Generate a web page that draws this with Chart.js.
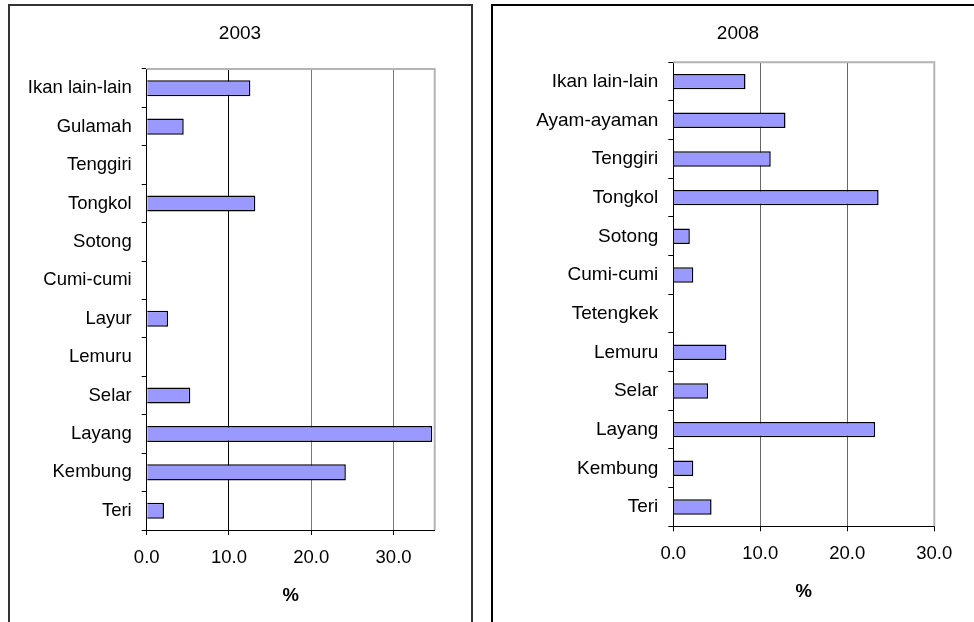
<!DOCTYPE html>
<html>
<head>
<meta charset="utf-8">
<script src="https://cdn.jsdelivr.net/npm/chart.js@4/dist/chart.umd.min.js"></script>
<style>
  html, body { margin: 0; padding: 0; background: #fff; overflow: hidden; }
  body { width: 974px; height: 622px; position: relative; }
  .panel { position: absolute; box-sizing: border-box; background: #fff; }
  #panel2003 { left: 8px; top: 4px; width: 465px; height: 640px; border: 2px solid #333; }
  #panel2008 { left: 491px; top: 4px; width: 500px; height: 640px; border: 2px solid #000; }
  canvas { display: block; }
</style>
</head>
<body>
<div class="panel" id="panel2003"><canvas id="c2003" width="461" height="616"></canvas></div>
<div class="panel" id="panel2008"><canvas id="c2008" width="481" height="616"></canvas></div>
<script>
// Catch composition (% share by fish group), top to bottom
const categories2003 = ['Ikan lain-lain', 'Gulamah', 'Tenggiri', 'Tongkol', 'Sotong', 'Cumi-cumi',
                        'Layur', 'Lemuru', 'Selar', 'Layang', 'Kembung', 'Teri'];
const share2003 = [12.6, 4.5, 0, 13.2, 0, 0, 2.6, 0, 5.3, 34.7, 24.2, 2.1];

const categories2008 = ['Ikan lain-lain', 'Ayam-ayaman', 'Tenggiri', 'Tongkol', 'Sotong', 'Cumi-cumi',
                        'Tetengkek', 'Lemuru', 'Selar', 'Layang', 'Kembung', 'Teri'];
const share2008 = [8.3, 12.9, 11.2, 23.6, 1.9, 2.3, 0, 6.1, 4.0, 23.2, 2.3, 4.4];

const tickValues = [0, 10, 20, 30];
const axisMax2003 = 35;
const axisMax2008 = 30;

Chart.defaults.font.family = '"Liberation Sans", Arial, sans-serif';
Chart.defaults.color = '#000';

// light grey frame on the top and right of the plot area
const plotFrame = {
  id: 'plotFrame',
  beforeDatasetsDraw(chart) {
    const { ctx, chartArea: a } = chart;
    ctx.save();
    ctx.strokeStyle = '#b4b4b4';
    ctx.lineWidth = 2;
    ctx.beginPath();
    ctx.moveTo(a.left, a.top);
    ctx.lineTo(a.right, a.top);
    ctx.lineTo(a.right, a.bottom);
    ctx.stroke();
    ctx.restore();
  }
};

// centre the title over the whole panel instead of the padded layout box
const centreTitle = {
  id: 'centreTitle',
  afterLayout(chart, args, opts) {
    const b = chart.titleBlock;
    if (!b) return;
    const half = 100;
    b.left = opts.centre - half;
    b.right = opts.centre + half;
    b.width = half * 2;
  }
};

function buildChart(canvasId, title, labels, values, axisMax, cfg) {
  return new Chart(document.getElementById(canvasId), {
    type: 'bar',
    data: {
      labels: labels,
      datasets: [{
        data: values,
        backgroundColor: '#9999ff',
        borderColor: '#000',
        borderWidth: 1.5,
        categoryPercentage: 1,
        barPercentage: cfg.barPct
      }]
    },
    plugins: [plotFrame, centreTitle],
    options: {
      indexAxis: 'y',
      responsive: false,
      animation: false,
      layout: { padding: { left: 0, top: 0, right: cfg.padRight, bottom: 0 } },
      plugins: {
        legend: { display: false },
        tooltip: { enabled: false },
        centreTitle: { centre: cfg.titleCentre },
        title: {
          display: true,
          text: title,
          color: '#000',
          font: { size: cfg.titleSize, weight: 'normal' },
          padding: { top: cfg.titleTop, bottom: cfg.titleBottom }
        }
      },
      scales: {
        x: {
          min: 0,
          max: axisMax,
          afterBuildTicks: s => { s.ticks = tickValues.map(v => ({ value: v })); },
          afterFit: s => { s.height = cfg.xAxisHeight; },
          ticks: {
            padding: 12,
            color: '#000',
            font: { size: cfg.tickSize },
            callback: v => Number(v).toFixed(1)
          },
          grid: {
            drawOnChartArea: true,
            drawTicks: true,
            tickLength: 5,
            tickColor: '#000',
            lineWidth: 1,
            color: ctx => (ctx.tick && ctx.tick.value === 0) ? 'rgba(0,0,0,0)' : cfg.gridColor(ctx.tick ? ctx.tick.value : 0)
          },
          border: { display: true, color: '#000', width: 1 },
          title: {
            display: true,
            text: '%',
            color: '#000',
            font: { size: cfg.tickSize, weight: 'bold' },
            padding: { top: 0, bottom: cfg.unitBottom }
          }
        },
        y: {
          afterFit: s => { s.width = cfg.yAxisWidth; },
          ticks: { padding: 10, color: '#000', font: { size: cfg.labelSize } },
          grid: {
            offset: true,
            drawOnChartArea: false,
            drawTicks: true,
            tickLength: 5,
            tickColor: '#000'
          },
          border: { display: true, color: '#000', width: 1 }
        }
      }
    }
  });
}

buildChart('c2003', '2003', categories2003, share2003, axisMax2003, {
  barPct: 0.42,
  padRight: 36.3,
  yAxisWidth: 136.7,
  xAxisHeight: 92,
  titleCentre: 230,
  titleSize: 19,
  titleTop: 16.5,
  titleBottom: 23.7,
  tickSize: 18.5,
  labelSize: 18.5,
  unitBottom: 15.2,
  gridColor: v => (v === 10 ? '#000' : '#777')
});

buildChart('c2008', '2008', categories2008, share2008, axisMax2008, {
  barPct: 0.40,
  padRight: 39.7,
  yAxisWidth: 180.3,
  xAxisHeight: 95.7,
  titleCentre: 245,
  titleSize: 19,
  titleTop: 16.5,
  titleBottom: 17.0,
  tickSize: 18.5,
  labelSize: 19,
  unitBottom: 18.5,
  gridColor: v => (v === 30 ? '#b4b4b4' : '#666')
});
</script>
</body>
</html>
